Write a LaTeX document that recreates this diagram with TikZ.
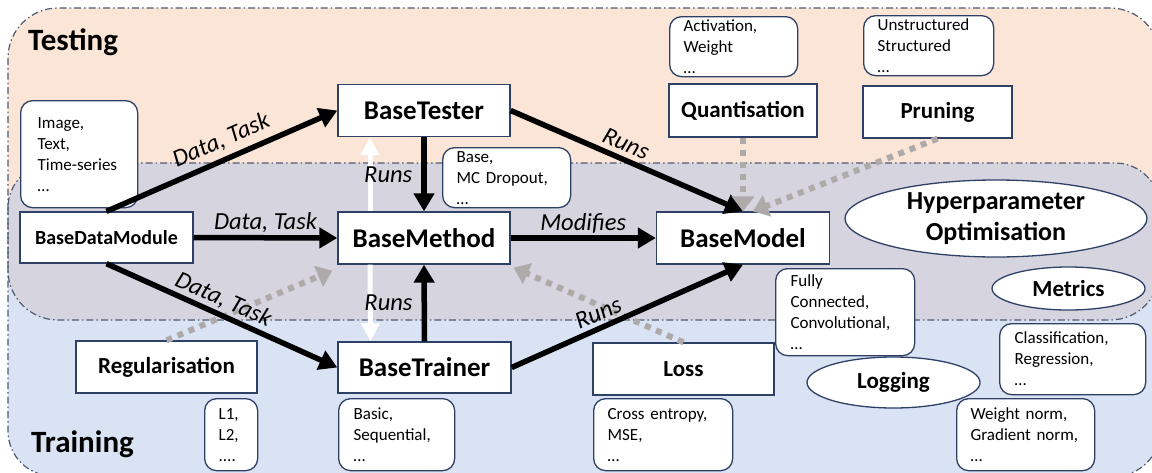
\documentclass[tikz,border=0pt]{standalone}
\usepackage{fontspec}
\setmainfont{Carlito}
\usetikzlibrary{arrows.meta,calc,shapes.geometric}
\definecolor{peach}{HTML}{FBE5D6}
\definecolor{lblue}{HTML}{DAE3F3}
\definecolor{ovl}{HTML}{D6D5DF}
\definecolor{bord}{HTML}{2E4066}
\definecolor{regc}{HTML}{4F5B73}
\definecolor{garr}{HTML}{AEAAAA}
\begin{document}
\begin{tikzpicture}[x=1pt,y=-1pt,
  regborder/.style={draw=regc, line width=1.2pt, dash pattern=on 7pt off 3pt on 1.5pt off 3pt},
  box/.style={draw=bord, line width=1.3pt, fill=white, inner sep=0pt},
  big/.style={box, minimum width=172pt, minimum height=52pt, font=\bfseries\fontsize{27}{32}\selectfont},
  mid/.style={box, minimum height=52pt, font=\bfseries\fontsize{23}{28}\selectfont},
  rbox/.style={draw=bord, line width=1.3pt, fill=white, rounded corners=12pt, anchor=north west,
     inner xsep=14pt, inner ysep=0pt, align=left, font=\fontsize{17}{21}\selectfont},
  ell/.style={draw=bord, line width=1.3pt, fill=white, ellipse, inner sep=0pt, font=\bfseries\fontsize{23}{28}\selectfont},
  lab/.style={font=\itshape\fontsize{24.5}{29}\selectfont, inner sep=1pt},
  title/.style={anchor=base west, inner sep=0pt, font=\bfseries\fontsize{31}{36}\selectfont},
  blk/.style={line width=5.5pt, -{Triangle[width=20pt,length=18pt]}},
  wht/.style={white, line width=5pt, -{Triangle[width=18pt,length=18pt]}},
  gry/.style={garr, line width=6pt, dash pattern=on 6pt off 6pt, -{Triangle[width=22pt,length=15pt]}}
]
\useasboundingbox (0,0) rectangle (1152,472);
\clip (0,0) rectangle (1152,472);

% regions
\path[fill=peach, rounded corners=50pt] (8,8) rectangle (1160,320);
\path[fill=lblue, rounded corners=45pt] (8,163) rectangle (1160,476);
\begin{scope}
  \clip[rounded corners=50pt] (8,8) rectangle (1160,320);
  \fill[ovl, rounded corners=45pt] (8,163) rectangle (1160,476);
\end{scope}
\draw[regborder, rounded corners=50pt] (8,8) rectangle (1160,320);
\draw[regborder, rounded corners=45pt] (8,163) rectangle (1160,476);

\node[title] (testing) at (28,50) {Testing};
\node[title] (training) at (31,452) {Training};

% main nodes
\node[big] (tester) at (424,110.5) {BaseTester};
\node[big] (method) at (424,238) {BaseMethod};
\node[big, minimum width=173pt, minimum height=51pt] (trainer) at (424.5,367.5) {BaseTrainer};
\node[big, minimum width=173pt] (model) at (743,238) {BaseModel};
\node[box, minimum width=173pt, minimum height=51pt, font=\bfseries\fontsize{20}{24}\selectfont] (dm) at (106.5,237.5) {BaseDataModule};
\node[mid, minimum width=148pt, minimum height=53pt] (quant) at (743,110.5) {Quantisation};
\node[mid, minimum width=149pt] (prune) at (937.5,112) {Pruning};
\node[mid, minimum width=181pt] (reg) at (166.5,367) {Regularisation};
\node[mid, minimum width=181pt] (loss) at (683.5,369) {Loss};
\node[ell, minimum width=302pt, minimum height=77pt, inner ysep=-4pt, align=center,
      font=\bfseries\fontsize{26}{31}\selectfont] (hpo) at (996,218.5) {Hyperparameter\\Optimisation};
\node[ell, minimum width=153pt, minimum height=43pt] (metrics) at (1068.5,288.5) {Metrics};

% detail boxes
\node[rbox, text width=83pt, inner xsep=17pt, minimum height=107pt] (img) at (20,100) {Image,\\Text,\\Time-series\\…};
\node[rbox, text width=100pt, minimum height=60pt] (mcd) at (442,147) {Base,\\MC Dropout,\\…};
\node[rbox, text width=100pt, minimum height=60pt] (act) at (669,16) {Activation,\\Weight\\…};
\node[rbox, text width=102pt, minimum height=60pt] (unstr) at (863,15) {Unstructured\\Structured\\…};
\node[rbox, text width=109pt, inner xsep=15pt, minimum height=87pt] (fully) at (775,268) {Fully\\Connected,\\Convolutional,\\…};
\node[rbox, text width=116pt, inner xsep=15pt, minimum height=71pt] (cls) at (999,323) {Classification,\\Regression,\\…};
\node[ell, minimum width=173pt, minimum height=51pt] (logging) at (893.5,382.5) {Logging};
\node[rbox, text width=110pt, minimum height=72pt] (wn) at (956,398) {Weight norm,\\Gradient norm,\\…};
\node[rbox, text width=111pt, minimum height=72pt] (ce) at (593,398) {Cross entropy,\\MSE,\\…};
\node[rbox, text width=86pt, inner xsep=15pt, minimum height=72pt] (basic) at (338,398) {Basic,\\Sequential,\\…};
\node[rbox, text width=25pt, minimum height=72pt] (l1) at (204,398) {L1,\\L2,\\....};

% gray dotted (under black)
\draw[gry] (reg.north) -- ($(method.south west)+(-5,6)$);
\draw[gry] (loss.north) -- ($(method.south east)+(3,3)$);

% white arrows
\draw[wht] ([xshift=-54pt]method.north) -- ([xshift=-54pt]tester.south);
\draw[wht] ([xshift=-54pt]method.south) -- ([xshift=-54pt]trainer.north);

% black arrows
\draw[blk] (dm.north) -- node[lab, sloped, above=5pt, pos=0.53] (lt1) {Data, Task} (tester.west);
\draw[blk] (dm.east) -- node[lab, above=1pt] (lt2) {Data, Task} (method.west);
\draw[blk] (dm.south) -- node[lab, sloped, above=1pt, pos=0.48] (lt3) {Data, Task} (trainer.west);
\draw[blk] (tester.south) -- node[lab, left=8pt] (lr1) {Runs} (method.north);
\draw[blk] (trainer.north) -- node[lab, left=8pt] (lr2) {Runs} (method.south);
\draw[blk] (method.east) -- node[lab, above=1pt] (lm) {Modifies} (model.west);
\draw[blk] (tester.east) -- node[lab, sloped, above=4pt, pos=0.47] (lr3) {Runs} (model.north);
\draw[blk] (trainer.east) -- node[lab, sloped, above=3pt, pos=0.40] (lr4) {Runs} (model.south);

% gray dotted (over black)
\draw[gry] (quant.south) -- (model.north);
\draw[gry] (prune.south) -- ($(model.north)+(10,0)$);
\end{tikzpicture}
\end{document}
